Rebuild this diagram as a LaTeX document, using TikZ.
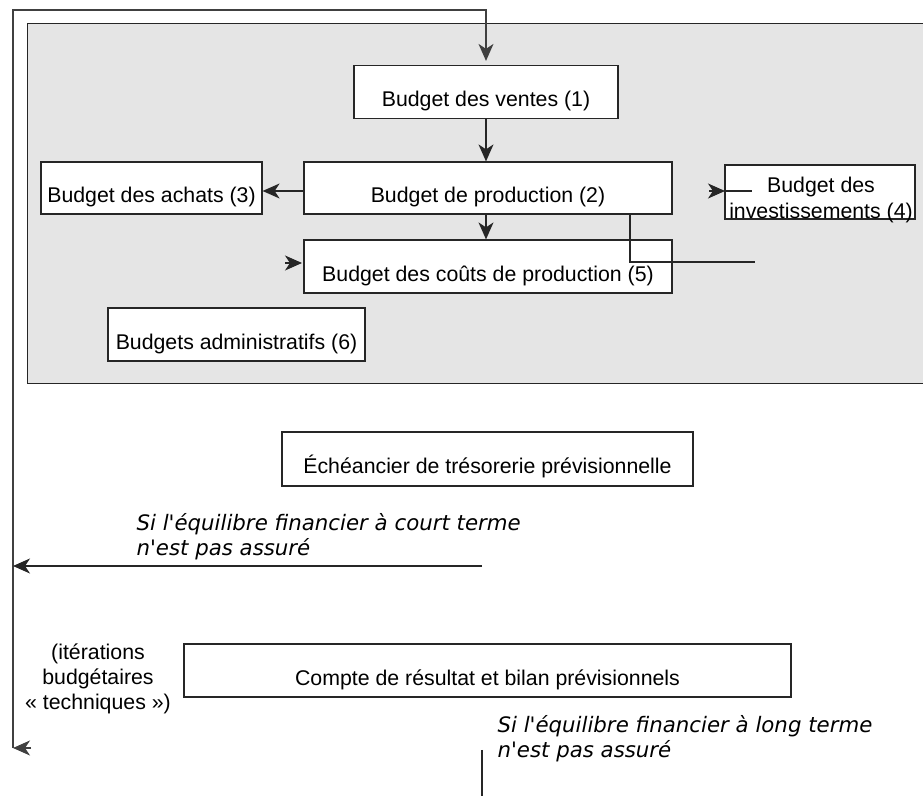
\documentclass[tikz,border=0pt]{standalone}
\usepackage{fontspec}
\setmainfont{Liberation Sans}
\newfontfamily\oblfont{DejaVu Sans}
\usetikzlibrary{arrows.meta}
\begin{document}
\begin{tikzpicture}[x=0.5pt,y=-0.5pt,
  font=\fontsize{10.65pt}{12.5pt}\selectfont,
  line width=0.6pt,
  tip/.style={-{Stealth[length=8.5pt,width=7.5pt,inset=2.5pt]}},
  box/.style={draw=black!85, fill=white, inner sep=0pt, text height=15pt, text depth=0pt, minimum height=26.5pt},
  txt/.style={inner sep=0pt, align=center},
  note/.style={inner sep=0pt, align=left, font=\fontsize{10.65pt}{12.5pt}\selectfont\oblfont\itshape}]
\useasboundingbox (0,0) rectangle (923,796);
% group background
\node[draw=black!85, fill=gray!20, line width=0.7pt, minimum width=454pt, minimum height=180pt, inner sep=0pt, anchor=north west] (grp) at (27,23) {};
% boxes
\node[box, minimum width=132pt] (ventes) at (486,92) {Budget des ventes (1)};
\node[box, minimum width=184pt, minimum height=26pt] (prod) at (488,188) {Budget de production (2)};
\node[box, minimum width=110.5pt, minimum height=26pt] (achats) at (151.5,188) {Budget des achats (3)};
\node[draw=black!85, fill=white, minimum width=95pt, minimum height=27pt, inner sep=0pt] (inv) at (820,192) {};
\node[txt, font=\fontsize{10.65pt}{13pt}\selectfont] (invT) at (821,200) {Budget des\\investissements (4)};
\node[box, minimum width=184pt] (cout) at (488,266.5) {Budget des coûts de production (5)};
\node[box, minimum width=128.5pt] (admin) at (236.5,334.5) {Budgets administratifs (6)};
\node[box, minimum width=205.5pt, minimum height=27pt] (ech) at (487.5,459) {Échéancier de trésorerie prévisionnelle};
\node[box, minimum width=303.5pt] (compte) at (487.5,670.5) {Compte de résultat et bilan prévisionnels};
% notes
\node[note, anchor=west] (court) at (136,537) {Si l'équilibre financier à court terme\\n'est pas assuré};
\node[note, anchor=west] (long) at (497,739) {Si l'équilibre financier à long terme\\n'est pas assuré};
\node[txt] (iter) at (98,679) {(itérations\\budgétaires\\« techniques »)};
% loop
\coordinate (lb) at (13,748);
\coordinate (lt) at (13,10);
\coordinate (rt) at (486,10);
\coordinate (lbt) at (31,748);
\draw[tip, draw=black!75, shorten >=2pt] (lb) -- (lt) -- (rt) -- (rt |- ventes.north);
\draw[tip, draw=black!75] (lbt) -- (lb);
% internal arrows
\draw[tip, draw=black!85] (ventes.south) -- (ventes.south |- prod.north);
\draw[tip, draw=black!85] ([yshift=-1.5pt]prod.west) -- ([yshift=-1.5pt]achats.east);
\draw[tip, draw=black!85] (ventes.south |- prod.south) -- (ventes.south |- cout.north);
% stray connectors
\coordinate (ia) at (709,191);
\coordinate (ib) at (725,191);
\coordinate (ic) at (752,191);
\draw[tip, draw=black!85] (ia) -- (ib);
\draw[draw=black!85] (ib) -- (ic);
\coordinate (ca) at (285,263);
\coordinate (cb) at (302,263);
\draw[tip, draw=black!85] (ca) -- (cb);
\coordinate (pa) at (630,262);
\coordinate (pb) at (755,262);
\draw[draw=black!85] (prod.south -| pa) -- (pa) -- (pb);
% short-term arrow
\coordinate (cs) at (482,566);
\coordinate (ce) at (13,566);
\draw[tip, draw=black!85] (cs) -- (ce);
% bottom line
\coordinate (ba) at (482,750);
\coordinate (bb) at (482,796);
\draw[draw=black!85] (ba) -- (bb);
\end{tikzpicture}
\end{document}
